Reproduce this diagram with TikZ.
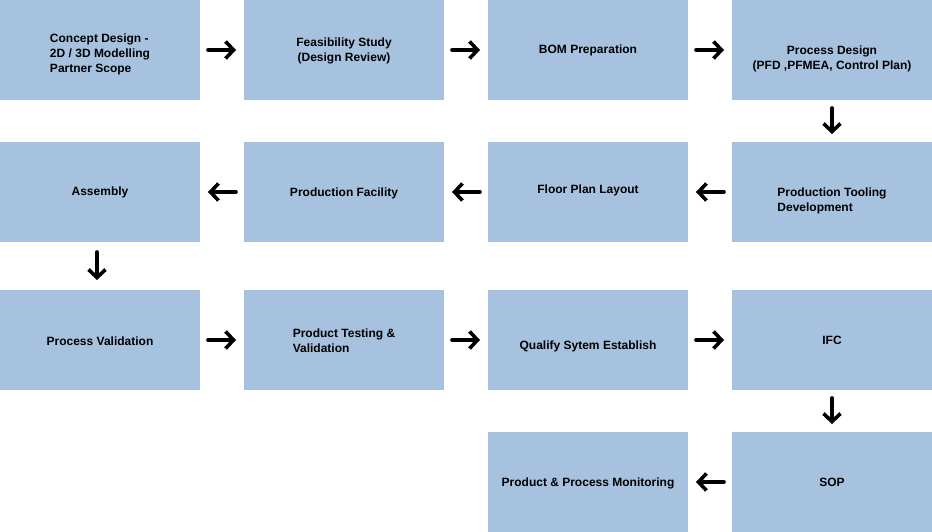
\documentclass[tikz,border=0pt]{standalone}
\usepackage{fontspec}
\setmainfont{Liberation Sans}
\usetikzlibrary{positioning}
\usetikzlibrary{arrows.meta}
\definecolor{boxblue}{HTML}{A7C2DF}
% text block moved down by #1, column type #2
\newcommand\boxtext[3]{\raisebox{\dimexpr-#1-3pt\relax}[0pt][0pt]{\begin{tabular}{@{}#2@{}}#3\end{tabular}}}

\begin{document}
\begin{tikzpicture}[x=1pt, y=1pt, node distance=44pt,
  box/.style={fill=boxblue, minimum width=200pt, minimum height=100pt,
    inner sep=0pt, outer sep=0pt, align=center,
    font=\bfseries\fontsize{12}{15}\selectfont},
  flow/.style={-{Straight Barb[length=8pt,width=17pt]}, line width=3.6pt,
    line cap=round, shorten <=8pt, shorten >=8pt}]
  \useasboundingbox (0,0) rectangle (932,-532);
  % first row
  \node[box, anchor=north west] (concept) at (0,0)
    {\boxtext{5pt}{l}{Concept Design -\\2D / 3D Modelling\\Partner Scope}};
  \node[box] (feas)    [right=of concept] {\boxtext{1pt}{c}{Feasibility Study\\(Design Review)}};
  \node[box] (bom)     [right=of feas]    {\boxtext{1pt}{c}{BOM Preparation}};
  \node[box] (pdesign) [right=of bom]
    {\boxtext{9pt}{c}{Process Design\\(PFD ,PFMEA, Control Plan)}};
  % second row
  \node[box] (tooling)  [below=42pt of pdesign]
    {\boxtext{9pt}{l}{Production Tooling\\Development}};
  \node[box] (floor)    [left=of tooling]  {\boxtext{-1pt}{c}{Floor Plan Layout}};
  \node[box] (facility) [left=of floor]    {\boxtext{2pt}{c}{Production Facility}};
  \node[box] (assembly) [left=of facility] {\boxtext{1pt}{c}{Assembly}};
  % third row
  \node[box] (pval)  [below=48pt of assembly] {\boxtext{2pt}{c}{Process Validation}};
  \node[box] (ptest) [right=of pval] {\boxtext{2pt}{l}{Product Testing \&\\Validation}};
  \node[box] (qsys)  [right=of ptest] {\boxtext{6pt}{c}{Qualify Sytem Establish}};
  \node[box] (ifc)   [right=of qsys]  {IFC};
  % fourth row
  \node[box] (sop)     [below=42pt of ifc] {SOP};
  \node[box] (monitor) [left=of sop]       {\boxtext{1pt}{c}{Product \& Process Monitoring}};
  \path[flow] (concept) edge (feas)
              (feas) edge (bom)
              (bom) edge (pdesign)
              (pdesign) edge (tooling)
              (tooling) edge (floor)
              (floor) edge (facility)
              (facility) edge (assembly)
              ([xshift=-3pt]assembly.south) edge[shorten <=10pt, shorten >=10pt] ([xshift=-3pt]pval.north)
              (pval) edge (ptest)
              (ptest) edge (qsys)
              (qsys) edge (ifc)
              (ifc) edge (sop)
              (sop) edge (monitor);
\end{tikzpicture}
\end{document}
